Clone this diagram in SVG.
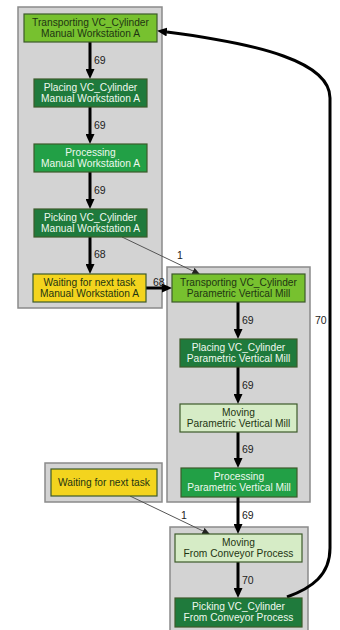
<svg xmlns="http://www.w3.org/2000/svg" width="340" height="630" viewBox="0 0 340 630">
<defs>
<style>
.cl{fill:#d3d3d3;stroke:#8a8a8a;stroke-width:1.5}
.n{stroke:#3d5a2a;stroke-width:1.2}
.tr{fill:#77c12f}
.pl{fill:#1f7a3c}
.pr{fill:#22a046}
.mv{fill:#d6ecc6}
.wt{fill:#f3d41e}
text{font-family:"Liberation Sans",Arial,sans-serif;font-size:10.2px;text-anchor:middle}
.dk{fill:#1e3512}
.lt{fill:#eef8ee}
.lb{font-size:10.5px;text-anchor:start;fill:#222}
.e{fill:none;stroke:#000;stroke-width:3}
.et{fill:none;stroke:#555;stroke-width:1}
</style>
<marker id="ah" markerUnits="userSpaceOnUse" markerWidth="10" markerHeight="9" refX="0" refY="4.5" orient="auto">
<path d="M0,0 L10,4.5 L0,9 z" fill="#000"/>
</marker>
<marker id="at" markerUnits="userSpaceOnUse" markerWidth="8" markerHeight="7" refX="0" refY="3.5" orient="auto">
<path d="M0,0 L8,3.5 L0,7 z" fill="#222"/>
</marker>
</defs>
<rect width="340" height="630" fill="#fff"/>
<g id="clusters">
<rect id="c1" class="cl" x="18" y="7" width="144" height="301"/>
<rect id="c2" class="cl" x="167" y="267" width="143" height="235"/>
<rect id="c3" class="cl" x="170" y="527" width="138" height="110"/>
<rect id="c4" class="cl" x="45" y="463" width="117" height="39"/>
</g>
<g id="connectors">
<path class="e" d="M90,42 V69" marker-end="url(#ah)"/>
<path class="e" d="M90,107 V134" marker-end="url(#ah)"/>
<path class="e" d="M90,172 V199" marker-end="url(#ah)"/>
<path class="e" d="M90,237 V264" marker-end="url(#ah)"/>
<path class="e" d="M146,288 H162" marker-end="url(#ah)"/>
<path class="et" d="M122,237 L193,271" marker-end="url(#at)"/>
<path class="e" d="M238,302 V329" marker-end="url(#ah)"/>
<path class="e" d="M238,367 V394" marker-end="url(#ah)"/>
<path class="e" d="M238,432 V458" marker-end="url(#ah)"/>
<path class="e" d="M238,497 V524" marker-end="url(#ah)"/>
<path class="et" d="M130,496 L203,531" marker-end="url(#at)"/>
<path class="e" d="M238,562 V588" marker-end="url(#ah)"/>
<path class="e" d="M287,597 C312,588 330,575 330,548 L330,98 C330,62 260,44 167,32" marker-end="url(#ah)"/>
<text class="lb" x="94" y="64">69</text>
<text class="lb" x="94" y="129">69</text>
<text class="lb" x="94" y="194">69</text>
<text class="lb" x="94" y="258">68</text>
<text class="lb" x="153" y="286">68</text>
<text class="lb" x="177" y="259">1</text>
<text class="lb" x="242" y="324">69</text>
<text class="lb" x="242" y="389">69</text>
<text class="lb" x="242" y="453">69</text>
<text class="lb" x="242" y="519">69</text>
<text class="lb" x="181" y="519">1</text>
<text class="lb" x="242" y="584">70</text>
<text class="lb" x="315" y="324">70</text>
</g>
<g id="n1"><rect class="n tr" x="24" y="14" width="133" height="28"/><text class="dk" x="90.5" y="26">Transporting VC_Cylinder</text><text class="dk" x="90.5" y="37">Manual Workstation A</text></g>
<g id="n2"><rect class="n pl" x="34" y="79" width="113" height="28"/><text class="lt" x="90.5" y="91">Placing VC_Cylinder</text><text class="lt" x="90.5" y="102">Manual Workstation A</text></g>
<g id="n3"><rect class="n pr" x="34" y="144" width="113" height="28"/><text class="lt" x="90.5" y="156">Processing</text><text class="lt" x="90.5" y="167">Manual Workstation A</text></g>
<g id="n4"><rect class="n pl" x="34" y="209" width="113" height="28"/><text class="lt" x="90.5" y="221">Picking VC_Cylinder</text><text class="lt" x="90.5" y="232">Manual Workstation A</text></g>
<g id="n5"><rect class="n wt" x="33" y="274" width="113" height="28"/><text class="dk" x="89.5" y="286">Waiting for next task</text><text class="dk" x="89.5" y="297">Manual Workstation A</text></g>
<g id="n6"><rect class="n tr" x="172" y="274" width="133" height="28"/><text class="dk" x="238.5" y="286">Transporting VC_Cylinder</text><text class="dk" x="238.5" y="297">Parametric Vertical Mill</text></g>
<g id="n7"><rect class="n pl" x="180" y="339" width="117" height="28"/><text class="lt" x="238.5" y="351">Placing VC_Cylinder</text><text class="lt" x="238.5" y="362">Parametric Vertical Mill</text></g>
<g id="n8"><rect class="n mv" x="180" y="404" width="117" height="28"/><text class="dk" x="238.5" y="416">Moving</text><text class="dk" x="238.5" y="427">Parametric Vertical Mill</text></g>
<g id="n9"><rect class="n pr" x="181" y="468" width="116" height="29"/><text class="lt" x="239" y="480">Processing</text><text class="lt" x="239" y="491">Parametric Vertical Mill</text></g>
<g id="n10"><rect class="n wt" x="51" y="469" width="106" height="27"/><text class="dk" x="104" y="486">Waiting for next task</text></g>
<g id="n11"><rect class="n mv" x="175" y="534" width="127" height="28"/><text class="dk" x="238.5" y="546">Moving</text><text class="dk" x="238.5" y="557">From Conveyor Process</text></g>
<g id="n12"><rect class="n pl" x="175" y="598" width="127" height="29"/><text class="lt" x="238.5" y="610">Picking VC_Cylinder</text><text class="lt" x="238.5" y="621">From Conveyor Process</text></g>
</svg>
